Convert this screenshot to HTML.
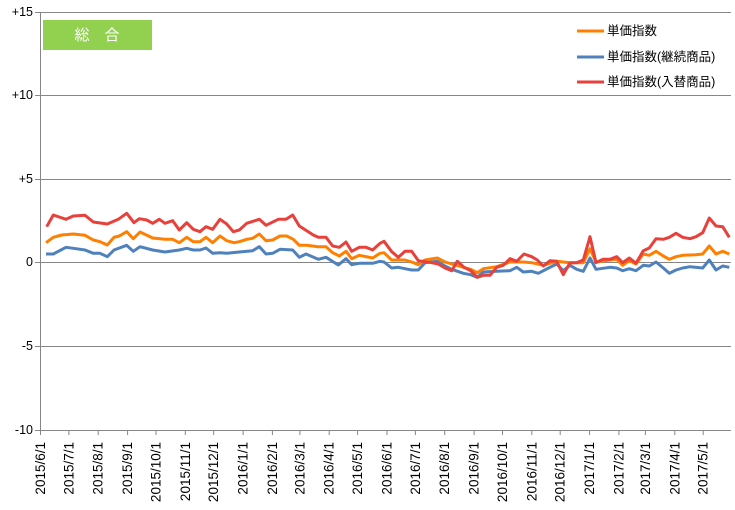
<!DOCTYPE html>
<html><head><meta charset="utf-8"><style>body{margin:0;background:#fff}svg{display:block}text{font-family:"Liberation Sans","Noto Sans CJK JP",sans-serif}</style></head><body>
<svg width="735" height="510" viewBox="0 0 735 510" xmlns="http://www.w3.org/2000/svg">
<g stroke="#868686" stroke-width="1">
<line x1="35" y1="12.5" x2="731" y2="12.5"/>
<line x1="35" y1="95.5" x2="731" y2="95.5"/>
<line x1="35" y1="179.5" x2="731" y2="179.5"/>
<line x1="35" y1="262.5" x2="731" y2="262.5"/>
<line x1="35" y1="346.5" x2="731" y2="346.5"/>
<line x1="35" y1="430.5" x2="731" y2="430.5"/>
<line x1="40.5" y1="12" x2="40.5" y2="431"/>
<path d="M40.5 431v4M68.9 431v4M98.2 431v4M127.6 431v4M156 431v4M185.3 431v4M213.7 431v4M243.1 431v4M272.4 431v4M299.9 431v4M329.2 431v4M357.6 431v4M387 431v4M415.4 431v4M444.7 431v4M474.1 431v4M502.5 431v4M531.8 431v4M560.2 431v4M589.6 431v4M618.9 431v4M645.4 431v4M674.8 431v4M703.2 431v4"/>
</g>
<g font-size="12.5" text-anchor="end" fill="#000">
<text x="33" y="16">+15</text><text x="33" y="99">+10</text><text x="33" y="183">+5</text><text x="33" y="266">0</text><text x="33" y="350">-5</text><text x="33" y="434">-10</text>
</g>
<g font-size="13.5" fill="#000" text-anchor="end">
<text transform="translate(45,442) rotate(-90)">2015/6/1</text>
<text transform="translate(73.4,442) rotate(-90)">2015/7/1</text>
<text transform="translate(102.7,442) rotate(-90)">2015/8/1</text>
<text transform="translate(132.1,442) rotate(-90)">2015/9/1</text>
<text transform="translate(160.5,442) rotate(-90)">2015/10/1</text>
<text transform="translate(189.8,442) rotate(-90)">2015/11/1</text>
<text transform="translate(218.2,442) rotate(-90)">2015/12/1</text>
<text transform="translate(247.6,442) rotate(-90)">2016/1/1</text>
<text transform="translate(276.9,442) rotate(-90)">2016/2/1</text>
<text transform="translate(304.4,442) rotate(-90)">2016/3/1</text>
<text transform="translate(333.7,442) rotate(-90)">2016/4/1</text>
<text transform="translate(362.1,442) rotate(-90)">2016/5/1</text>
<text transform="translate(391.5,442) rotate(-90)">2016/6/1</text>
<text transform="translate(419.9,442) rotate(-90)">2016/7/1</text>
<text transform="translate(449.2,442) rotate(-90)">2016/8/1</text>
<text transform="translate(478.6,442) rotate(-90)">2016/9/1</text>
<text transform="translate(507,442) rotate(-90)">2016/10/1</text>
<text transform="translate(536.3,442) rotate(-90)">2016/11/1</text>
<text transform="translate(564.7,442) rotate(-90)">2016/12/1</text>
<text transform="translate(594.1,442) rotate(-90)">2017/1/1</text>
<text transform="translate(623.4,442) rotate(-90)">2017/2/1</text>
<text transform="translate(649.9,442) rotate(-90)">2017/3/1</text>
<text transform="translate(679.3,442) rotate(-90)">2017/4/1</text>
<text transform="translate(707.7,442) rotate(-90)">2017/5/1</text>
</g>
<rect x="43" y="20" width="109" height="30" fill="#92d050"/>
<text x="97" y="40" font-size="15" fill="#fff" text-anchor="middle">総　合</text>
<g fill="none" stroke-width="3" stroke-linejoin="round">
<polyline stroke="#4f81bd" points="46,254 53.3,254 66,247.3 73.3,248.3 85,250 93.3,253.3 100,253.3 107.3,256.7 114,250 126.7,245.3 133.3,251.3 140,246.7 152.7,250 165,252 179.3,250 186.7,248.3 193.3,250 200,250 206,248 212.7,253.3 220,252.7 226.7,253.3 239.3,252 252.7,250.7 259.3,246.7 266,254 272.7,253.3 280,249.3 292.7,250 299.3,257.3 306,254 318.3,259.3 326,257.3 338.3,265 346,258.7 351.7,264.7 359.3,263.3 372.7,263.3 380,261.3 384,262 391.7,268 398.3,267.3 405,268.7 411.7,270 418.3,270 425,262.7 437.3,261.3 445,266 451.7,269.3 463.3,273.3 470.7,274.7 477.3,277.3 483.3,272 496.7,271.3 510,270.7 516.7,267.3 523.3,272 531.7,271.3 538.3,273.3 550,267.3 556.7,264 563.3,270.7 570,265.3 576.7,269.3 583.3,271.3 590,258 596,269.3 610,267.3 616.7,268 622.7,270.7 629.3,268.7 636,270.7 643.3,265.3 649.3,266 656,262 663.3,268 669.3,273.3 676,270 682.7,268 690,266.7 702.7,268 709.3,260 716,270 722.7,266 729.3,267.3"/>
<polyline stroke="#ff8000" points="46,242.7 53.3,237.3 61.7,235 73.3,234 85,235.3 93.3,240 100,241.7 107.3,245 114,237.3 119.3,236 126.7,231.7 133.3,238.7 140,232 152.7,238 165,239.3 172.7,239.3 179.3,242.7 186.7,237.3 193.3,241.7 200,241.7 206,237.3 212.7,242.7 220,236 226.7,240.7 234,242.7 239.3,241.7 246.7,239.3 252.7,238.3 259.3,234 266,240.7 272.7,240 280,236 286.7,236 293.3,239.3 299.3,245.3 306.7,245.3 318.3,246.7 326,246.7 332.7,252.7 339.3,256 346,251.3 351.7,258.7 359.3,255.3 372.7,258 380,253.3 384,252.7 391.7,260 405,260 411.7,262 418.3,264.7 425,260 437.3,258 445,262 451.7,264 463.3,267.3 470.7,269.3 477.3,272.7 483.3,268.7 496.7,266.7 510,262 523.3,262 531.7,262.7 543.3,265.3 556.7,261.3 570,262.7 583.3,262.7 590,248.7 596,262 610,260 616.7,259.3 622.7,265.3 629.3,260.7 636,264 643.3,254 649.3,255.3 656,251.3 663.3,256 669.3,259.3 676,256.7 682.7,255.3 696,254.7 702.7,254 709.3,246 716,254 722.7,251.3 729.3,254"/>
<polyline stroke="#e8413c" points="46.7,226.7 53.3,215 66,219.3 73.3,216 85,215.3 93.3,222 107.3,224 118.3,219.3 126.7,213.3 134,222.7 139.3,218.7 146.7,220 152.7,223.3 159.3,219.3 165,223.3 172.7,220.7 179.3,230 186.7,222.7 193.3,229.3 200,231.7 206,226.7 212.7,229.3 220,219.3 226.7,224 233.3,231.7 239.3,230 246.7,223.3 259.3,219.3 266,225.3 278.3,219.3 286,219.3 292.7,215 299.3,226 313.3,235 318.3,237.3 326,237.3 332.7,246 339.3,247.3 346,242 351.7,251.3 359.3,247.3 366,247.3 372.7,250 380,243.3 384,241.3 391.7,251.7 398.3,257.3 405,251.3 411.7,251.3 418.3,260.7 431.7,262.7 438.3,264 445,268 451.7,270.7 457.3,261.3 464,267.3 470.7,270.7 477.3,277.3 483.3,275.3 490,275.3 496.7,267.3 503.3,265.3 510,258.7 516.7,261.3 524,254 531.7,256.7 537.3,260 543.3,266 550,260.7 556.7,261.3 563.3,274.7 570,262.7 576.7,262.7 583.3,260 590,236.7 596,262.7 602.7,259.3 610,259.3 616.7,256.7 622.7,262.7 629.3,258 636,263.3 643.3,250.7 649.3,248 656,238.7 663.3,239.3 669.3,237.3 676,233.3 682.7,237.3 690,238.7 696,236.7 702.7,232.7 709.3,218 716,226 722.7,226.7 729.3,237.3"/>
</g>
<rect x="568" y="14" width="159" height="80" fill="#fff"/>
<g stroke-width="3"><line x1="577" y1="31" x2="604" y2="31" stroke="#ff8000"/><line x1="577" y1="57" x2="604" y2="57" stroke="#4f81bd"/><line x1="577" y1="82" x2="604" y2="82" stroke="#e8413c"/></g>
<g font-size="12.5" fill="#000"><text x="607" y="35">単価指数</text><text x="607" y="61">単価指数(継続商品)</text><text x="607" y="86">単価指数(入替商品)</text></g>
</svg>
</body></html>
